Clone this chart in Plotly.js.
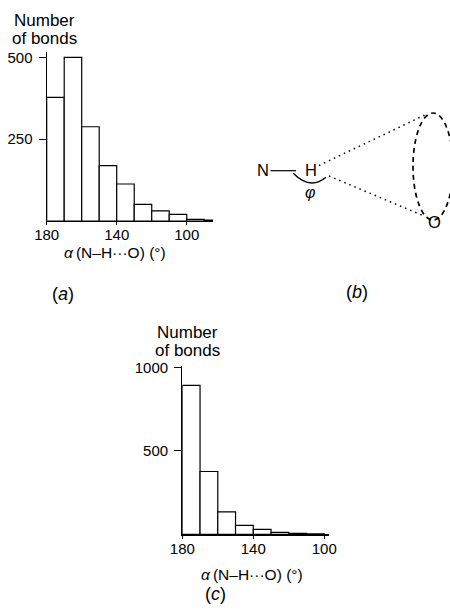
<!DOCTYPE html>
<html>
<head>
<meta charset="utf-8">
<script src="https://cdn.plot.ly/plotly-3.0.1.min.js"></script>
<style>html,body{margin:0;padding:0;background:#fff;}#chart{width:450px;height:611px;}</style>
</head>
<body>
<div id="chart"></div>
<script>
// ---- data ----
const binCentersA = [175, 165, 155, 145, 135, 125, 115, 105, 95, 85];
const countsA     = [378, 500, 288, 169, 113, 51, 31, 20, 5, 3];
const binCentersC = [175, 165, 155, 145, 135, 125, 115, 105];
const countsC     = [892, 376, 134, 53, 29, 12, 5, 2];
const binWidth = 10;
const yTicksA = [250, 500];
const yTicksC = [500, 1000];
const xTicks = [180, 140, 100];
const yTitleLines = ["Number", "of bonds"];
const xTitle = "<i>α</i>\u2009(N–H···O) (°)";
const panelLabels = ["(<i>a</i>)", "(<i>b</i>)", "(<i>c</i>)"];

// ---- helpers (pixel -> paper) ----
const W = 450, H = 611;
const px = x => x / W;
const py = y => 1 - y / H;

const FAM = "Liberation Sans, Arial, sans-serif";
const font = s => ({family: FAM, size: s, color: "#000"});
const TICKFONT = font(15);

const barStyle = {color: "#fff", line: {color: "#000", width: 1.2}};
const traces = [
  {type: "bar", x: binCentersA, y: countsA, width: binWidth, marker: barStyle,
   xaxis: "x", yaxis: "y", hoverinfo: "skip"},
  {type: "bar", x: binCentersC, y: countsC, width: binWidth, marker: barStyle,
   xaxis: "x2", yaxis: "y2", hoverinfo: "skip"}
];

function xAxis(domain, range, anchor) {
  return {domain, range, anchor, showgrid: false, zeroline: false, showline: true,
    linecolor: "#000", linewidth: 1.2, ticks: "outside", ticklen: 3, tickwidth: 1.2,
    tickcolor: "#000", tickvals: xTicks, ticktext: xTicks.map(String), tickfont: TICKFONT,
    ticklabelstandoff: -3, fixedrange: true};
}
function yAxis(domain, range, anchor, tv) {
  return {domain, range, anchor, showgrid: false, zeroline: false, showline: true,
    linecolor: "#000", linewidth: 1.2, ticks: "outside", ticklen: 7, tickwidth: 1.2,
    tickcolor: "#000", tickvals: tv, ticktext: tv.map(String), tickfont: TICKFONT,
    ticklabelstandoff: 3, fixedrange: true};
}

const annotations = [
  {text: yTitleLines[0], x: px(44), y: py(20), font: font(17)},
  {text: yTitleLines[1], x: px(44), y: py(38), font: font(17)},
  {text: yTitleLines[0], x: px(187), y: py(332), font: font(17)},
  {text: yTitleLines[1], x: px(187), y: py(350), font: font(17)},
  {text: xTitle, x: px(115), y: py(252.5), font: font(15.5)},
  {text: xTitle, x: px(252), y: py(574), font: font(15.5)},
  {text: panelLabels[0], x: px(63), y: py(294), font: font(18)},
  {text: panelLabels[1], x: px(357), y: py(292), font: font(18)},
  {text: panelLabels[2], x: px(215), y: py(594), font: font(18)},
  {text: "N", x: px(262.5), y: py(170.5), font: font(16.5)},
  {text: "H", x: px(311), y: py(170.5), font: font(16.5)},
  {text: "O", x: px(434), y: py(221.5), font: font(16.5)},
  {text: "<i>φ</i>", x: px(310), y: py(192), font: font(16)}
].map(a => Object.assign({xref: "paper", yref: "paper", showarrow: false,
  xanchor: "center", yanchor: "middle"}, a));

const arcPath = "M " + px(293.3) + "," + py(173.3) +
  " Q " + px(310) + "," + py(190.5) + " " + px(326) + "," + py(177.3);

const shapes = [
  {type: "line", x0: px(270.5), y0: py(170.7), x1: px(296), y1: py(170.7),
   line: {color: "#000", width: 1.2}},
  {type: "path", path: arcPath, line: {color: "#000", width: 1.4}},
  {type: "line", x0: px(319), y0: py(165.5), x1: px(428), y1: py(113.5),
   line: {color: "#000", width: 1.5, dash: "1.5px,4px"}},
  {type: "line", x0: px(329), y0: py(176), x1: px(424), y1: py(216),
   line: {color: "#000", width: 1.5, dash: "1.5px,4px"}},
  {type: "circle", x0: px(413), x1: px(453), y0: py(113), y1: py(220),
   line: {color: "#000", width: 1.7, dash: "5px,4px"}}
].map(s => Object.assign({xref: "paper", yref: "paper", layer: "above"}, s));

const layout = {
  width: W, height: H,
  margin: {l: 0, r: 0, t: 0, b: 0},
  paper_bgcolor: "#fff", plot_bgcolor: "rgba(0,0,0,0)",
  showlegend: false, bargap: 0,
  font: TICKFONT,
  xaxis: xAxis([px(46.7), px(213)], [180, 85], "y"),
  yaxis: yAxis([py(221), py(51.8)], [0, 517], "x", yTicksA),
  xaxis2: xAxis([px(182.3), px(328.7)], [180, 97.5], "y2"),
  yaxis2: yAxis([py(534.3), py(365.6)], [0, 1010], "x2", yTicksC),
  annotations, shapes
};

Plotly.newPlot("chart", traces, layout, {displayModeBar: false, staticPlot: true});
</script>
</body>
</html>
